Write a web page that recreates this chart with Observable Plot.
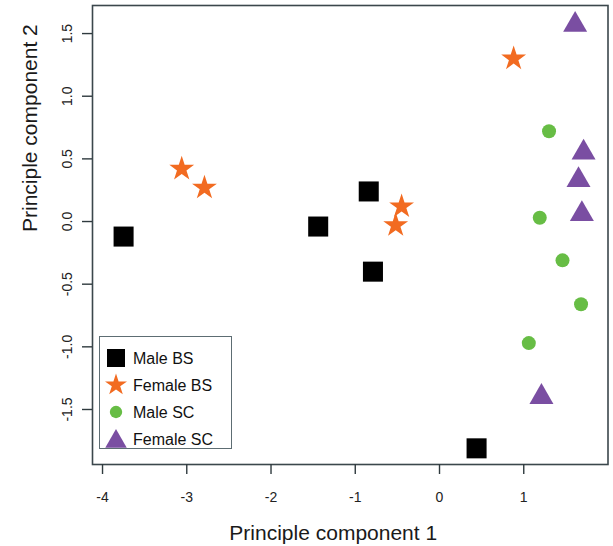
<!DOCTYPE html>
<html>
<head>
<meta charset="utf-8">
<script src="https://cdn.jsdelivr.net/npm/d3@7"></script>
<script src="https://cdn.jsdelivr.net/npm/@observablehq/plot@0.6"></script>
<style>
  html, body { margin: 0; padding: 0; background: #ffffff; }
  #wrap { position: relative; width: 613px; height: 546px; font-family: "Liberation Sans", Arial, sans-serif; }
  #legend { position: absolute; left: 99px; top: 336px; width: 131px; height: 111px; border: 1.5px solid #5d6d73; background: #ffffff; }
  #legend svg { position: absolute; left: 0; top: 0; }
</style>
</head>
<body>
<div id="wrap"></div>
<script>
// Group names
const groups = ["Male BS", "Female BS", "Male SC", "Female SC"];
const groupColors = ["#000000", "#f26b21", "#67bd45", "#7a4ea2"];
const groupSymbols = ["square", "star", "circle", "triangle"];

// PC1 / PC2 values per group
const maleBS_pc1 = [-3.75, -1.44, -0.84, -0.79, 0.44];
const maleBS_pc2 = [-0.12, -0.04, 0.24, -0.40, -1.81];
const femaleBS_pc1 = [-3.06, -2.79, -0.45, -0.52, 0.88];
const femaleBS_pc2 = [0.42, 0.27, 0.12, -0.03, 1.30];
const maleSC_pc1 = [1.30, 1.19, 1.46, 1.68, 1.06];
const maleSC_pc2 = [0.72, 0.03, -0.31, -0.66, -0.97];
const femaleSC_pc1 = [1.61, 1.71, 1.65, 1.69, 1.21];
const femaleSC_pc2 = [1.57, 0.55, 0.33, 0.06, -1.40];

// Tick values
const xTicks = [-4, -3, -2, -1, 0, 1];
const yTicks = [-1.5, -1.0, -0.5, 0.0, 0.5, 1.0, 1.5];

const pc1 = [maleBS_pc1, femaleBS_pc1, maleSC_pc1, femaleSC_pc1];
const pc2 = [maleBS_pc2, femaleBS_pc2, maleSC_pc2, femaleSC_pc2];
const rows = [];
groups.forEach((g, gi) => pc1[gi].forEach((x, i) => rows.push({group: g, x, y: pc2[gi][i]})));

const symSize = {"Male BS": 11.3, "Female BS": 7.8, "Male SC": 7, "Female SC": 8.9};
const axisColor = "#2f3a3e";

const marks = [
  Plot.frame({stroke: "#3b474c", strokeWidth: 1.6}),
  Plot.axisX({ticks: xTicks, tickSize: 10, tickPadding: 17.5, fontSize: 14, tickFormat: d => String(d), label: null, stroke: axisColor, strokeWidth: 1.4, color: "#222"}),
  Plot.axisY({ticks: yTicks, tickSize: 10, tickFormat: () => "", label: null, stroke: axisColor, strokeWidth: 1.4}),
  Plot.text(yTicks, {y: d => d, text: d => d.toFixed(1), frameAnchor: "left", dx: -25, rotate: -90, textAnchor: "middle", lineAnchor: "middle", fontSize: 14, fill: "#222"}),
  Plot.text(["Principle component 1"], {frameAnchor: "bottom", dx: -17, dy: 75, lineAnchor: "bottom", fontSize: 21, fill: "#1a1a1a"}),
  Plot.text(["Principle component 2"], {frameAnchor: "left", dx: -62, dy: -3, rotate: -90, lineAnchor: "middle", fontSize: 21, fill: "#1a1a1a"})
];
groups.forEach((g, gi) => {
  marks.push(Plot.dot(rows.filter(d => d.group === g), {
    x: "x", y: "y", symbol: () => groupSymbols[gi], r: symSize[g], fill: groupColors[gi], stroke: "none"
  }));
});

const chart = Plot.plot({
  width: 613,
  height: 546,
  marginLeft: 92,
  marginRight: 5.5,
  marginTop: 5,
  marginBottom: 82,
  style: {fontFamily: "'Liberation Sans', Arial, sans-serif", background: "#ffffff"},
  x: {domain: [-4.119, 2.0]},
  y: {domain: [-1.939, 1.724]},
  symbol: {type: "identity"},
  marks
});
const wrap = document.getElementById("wrap");
wrap.appendChild(chart);

// Legend (inside plot area)
const legend = document.createElement("div");
legend.id = "legend";
wrap.appendChild(legend);
const lsvg = d3.select(legend).append("svg").attr("width", 131).attr("height", 111);
const legendSizes = [324, 150, 120, 200];
const d3Syms = [d3.symbolSquare, d3.symbolStar, d3.symbolCircle, d3.symbolTriangle];
groups.forEach((g, i) => {
  const cy = 21 + i * 27;
  const dyAdj = i === 3 ? 2.5 : 0;
  lsvg.append("path")
    .attr("d", d3.symbol(d3Syms[i], legendSizes[i])())
    .attr("transform", `translate(16,${cy + dyAdj})`)
    .attr("fill", groupColors[i]);
  lsvg.append("text")
    .attr("x", 33).attr("y", cy).attr("dy", "0.36em")
    .attr("font-size", 16).attr("fill", "#111")
    .attr("font-family", "'Liberation Sans', Arial, sans-serif")
    .text(g);
});
</script>
</body>
</html>
